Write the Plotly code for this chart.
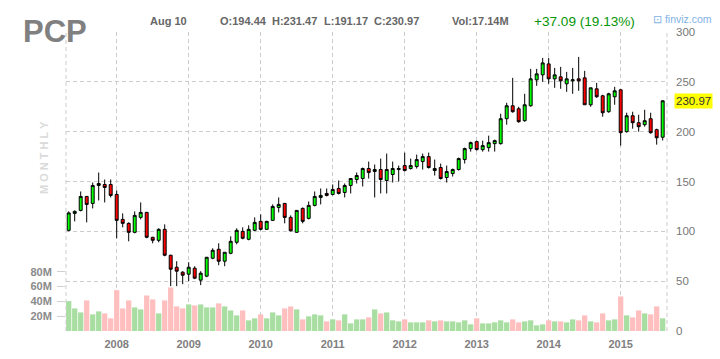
import plotly.graph_objects as go
import pandas as pd

# ---------------- data (monthly PCP, May 2007 .. Aug 2015) ----------------
months = [p.strftime("%Y-%m") for p in pd.period_range("2007-05", "2015-08", freq="M")]

opens = [101, 118, 121, 135, 128, 146, 147, 147, 137, 112,
         108, 99, 114, 119, 94, 91, 102, 76, 64, 59,
         57, 63, 51, 55, 73, 82, 70, 78, 89, 100,
         92, 101, 110, 102, 111, 124, 128, 114, 99, 123,
         113, 126, 134, 138, 137, 143, 139, 146, 152, 153,
         163, 160, 162, 151, 157, 162, 166, 163, 165, 170,
         175, 161, 164, 154, 158, 162, 172, 183, 190, 182,
         184, 188, 188, 213, 226, 223, 211, 226, 252, 257,
         268, 253, 255, 248, 251, 253, 254, 227, 243, 236,
         220, 235, 242, 200, 216, 209, 207, 213, 202, 194.44]
highs = [120, 121, 140, 135.5, 149, 159, 152, 152, 141, 118,
         109, 120, 129, 119.5, 94.5, 103, 107, 76.5, 70, 60,
         69, 65, 60, 74, 83, 88, 79, 95, 103, 104,
         106, 114, 117, 110.5, 127, 134, 128.5, 116, 121, 124,
         130, 140, 143, 143, 147, 151, 148, 153, 159, 164,
         170, 167, 173, 178, 170, 166, 179, 173, 177, 178,
         179, 172, 168, 166, 163, 174, 184, 190, 191, 191,
         196, 192, 218, 229, 254, 225, 238, 263, 263, 274,
         274, 264, 265, 260, 264, 275, 261, 244, 249, 237,
         239, 245, 242.5, 219, 220, 217, 222, 219, 203, 231.47]
lows = [100, 110, 120, 109, 123, 131, 129, 134, 93, 104,
        90, 98, 112, 93, 88, 89, 75, 45, 45, 47,
        50, 52, 46, 54, 72, 66, 65, 77, 87, 92,
        91, 100, 101, 101.5, 110.5, 119, 108, 100, 98.5, 108,
        112, 125, 127, 135, 136, 137, 134, 138, 148, 145,
        153, 134, 138, 138, 149, 150, 160, 162, 163, 162,
        163, 156, 152, 149, 155, 161, 168, 180, 181, 180,
        180, 180, 187, 207, 219, 209, 210, 225, 246, 250,
        248, 244, 243, 240, 238, 241, 227, 225, 234, 215,
        219, 227, 186, 199, 203, 200, 205, 198, 187, 191.17]
closes = [118.5, 120, 135, 127, 146, 148, 144, 136, 111, 108,
          99, 116, 119, 94, 91, 102, 76, 62, 60, 56,
          64, 53, 58, 74, 81, 70, 79, 90, 101, 93,
          102, 109, 102, 110, 125, 127, 114, 100.5, 121, 110,
          126, 135, 136, 136, 142, 138, 146, 153, 156, 163,
          159, 162, 152, 162, 163, 163, 161, 166, 172, 175,
          164, 163, 153, 160, 162, 173, 183, 189, 182, 186,
          189, 191, 213, 226, 220, 210, 227, 253, 258, 269,
          253, 257, 251, 253, 252, 251, 227, 244, 235, 219,
          238, 241, 199, 216, 209, 205, 211, 199, 193.88, 230.97]
volumes_m = [40.4, 30.5, 25.1, 41.3, 22.5, 26.5, 23.8, 17.1, 55.2, 30.5,
             41.3, 31.9, 29.2, 48.0, 42.7, 23.8, 41.3, 58.8, 33.2, 30.5,
             35.9, 34.6, 35.9, 31.9, 31.9, 37.3, 33.2, 27.8, 21.1, 27.8,
             14.4, 17.1, 22.5, 17.1, 25.1, 21.1, 30.5, 33.2, 29.2, 15.7,
             19.8, 22.5, 21.1, 13.0, 15.7, 14.4, 22.5, 10.3, 15.7, 15.7,
             18.4, 29.2, 23.8, 25.1, 14.4, 13.0, 15.7, 11.7, 11.7, 11.7,
             14.4, 13.0, 14.4, 13.0, 13.0, 11.7, 14.4, 9.0, 17.1, 10.3,
             10.3, 11.7, 14.4, 11.7, 15.7, 11.7, 13.0, 14.4, 7.6, 9.0,
             14.4, 13.0, 13.0, 11.7, 15.7, 14.4, 21.1, 13.0, 11.7, 23.8,
             14.4, 15.7, 46.7, 21.1, 18.4, 27.8, 23.8, 22.5, 33.2, 17.14]

year_ticks = ["2008-01", "2009-01", "2010-01", "2011-01", "2012-01", "2013-01", "2014-01", "2015-01"]
year_labels = ["2008", "2009", "2010", "2011", "2012", "2013", "2014", "2015"]
price_ticks = [0, 50, 100, 150, 200, 250, 300]
vol_ticks_m = [20, 40, 60, 80]

volumes = [v * 1e6 for v in volumes_m]
vol_colors = ["#a9dea2" if c >= o else "#ffbfbf" for o, c in zip(opens, closes)]

FONT = "Liberation Sans, Arial, sans-serif"
GRID = "#cccccc"

fig = go.Figure()
fig.add_trace(go.Bar(x=months, y=volumes, marker=dict(color=vol_colors, line=dict(width=0)),
                     yaxis="y", hoverinfo="skip", showlegend=False))
fig.add_trace(go.Candlestick(
    x=months, open=opens, high=highs, low=lows, close=closes, yaxis="y2",
    increasing=dict(line=dict(color="black", width=1), fillcolor="#00ff00"),
    decreasing=dict(line=dict(color="black", width=1), fillcolor="#ff0000"),
    whiskerwidth=0, showlegend=False))

L, R, T, B = 66, 53, 32, 28
W, H = 720, 359
pw, ph = W - L - R, H - T - B


def px(xp):
    return (xp - L) / pw


def py(yp):
    return 1 - (yp - T) / ph


fig.update_layout(
    width=W, height=H,
    margin=dict(l=L, r=R, t=T, b=B, autoexpand=False),
    paper_bgcolor="white", plot_bgcolor="white",
    bargap=0.12,
    font=dict(family=FONT, color="#808080"),
    xaxis=dict(type="category", range=[-0.45, 99.72], rangeslider=dict(visible=False),
               tickmode="array", tickvals=year_ticks, ticktext=year_labels,
               showgrid=True, gridcolor=GRID, griddash="4px,3px", gridwidth=1,
               ticks="", ticklabelstandoff=5, showline=False, zeroline=False,
               automargin=False,
               tickfont=dict(family=FONT, size=11, color="#808080", weight="bold")),
    yaxis=dict(range=[0, 404e6], side="left", showgrid=False, zeroline=False,
               tickmode="array", tickvals=[v * 1e6 for v in vol_ticks_m],
               ticktext=[f"{v}M" for v in vol_ticks_m],
               ticks="outside", ticklen=8, tickcolor="#d0d0d0", tickwidth=1,
               ticklabelstandoff=3, automargin=False,
               tickfont=dict(family=FONT, size=11, color="#8a8a8a", weight="bold")),
    yaxis2=dict(range=[0, 300], overlaying="y", side="right", showgrid=True,
                gridcolor=GRID, griddash="4px,3px", gridwidth=1, zeroline=False,
                tickmode="array", tickvals=price_ticks, ticks="", ticklabelstandoff=8,
                automargin=False,
                tickfont=dict(family=FONT, size=11.5, color="#777777")),
    shapes=[
        dict(type="line", xref="paper", yref="paper", x0=0, x1=0, y0=0, y1=1,
             line=dict(color=GRID, width=1, dash="4px,3px")),
        dict(type="line", xref="paper", yref="paper", x0=1, x1=1, y0=0, y1=1,
             line=dict(color=GRID, width=1, dash="4px,3px")),
    ],
)

ann = []
ann.append(dict(text="<b>PCP</b>", x=px(21), y=py(31), xref="paper", yref="paper",
                xanchor="left", yanchor="middle", showarrow=False,
                font=dict(family=FONT, size=31, color="#808080")))
ann.append(dict(text="<b>M O N T H L Y</b>", x=px(44), y=py(158), xref="paper", yref="paper",
                xanchor="center", yanchor="middle", showarrow=False, textangle=-90,
                font=dict(family=FONT, size=11, color="#dadada")))
hdr_y = py(21)
hdr_items = [("Aug 10", 148),
             (f"O:{opens[-1]:.2f}", 218),
             (f"H:{highs[-1]:.2f}", 270),
             (f"L:{lows[-1]:.2f}", 322),
             (f"C:{closes[-1]:.2f}", 372),
             (f"Vol:{volumes_m[-1]:.2f}M", 450)]
for txt, xp in hdr_items:
    ann.append(dict(text=f"<b>{txt}</b>", x=px(xp), y=hdr_y, xref="paper", yref="paper",
                    xanchor="left", yanchor="middle", showarrow=False,
                    font=dict(family=FONT, size=11, color="#666666")))
chg = closes[-1] - closes[-2]
ann.append(dict(text=f"+{chg:.2f} ({chg / closes[-2] * 100:.2f}%)", x=px(532), y=hdr_y,
                xref="paper", yref="paper", xanchor="left", yanchor="middle", showarrow=False,
                font=dict(family=FONT, size=13.6, color="#079607")))
ann.append(dict(text="⊡ finviz.com", x=px(651), y=py(19), xref="paper", yref="paper",
                xanchor="left", yanchor="middle", showarrow=False,
                font=dict(family=FONT, size=10.5, color="#7fb2e5")))
ann.append(dict(text=f"{closes[-1]:.2f}", x=1, xshift=7, y=closes[-1], xref="paper", yref="y2",
                xanchor="left", yanchor="middle", showarrow=False, bgcolor="#ffff00",
                borderpad=1, font=dict(family=FONT, size=11.5, color="#333333")))
fig.update_layout(annotations=ann)

fig.write_html("out.html", config={"displayModeBar": False},
               post_script="document.body.style.margin='0';document.body.style.padding='0';")
